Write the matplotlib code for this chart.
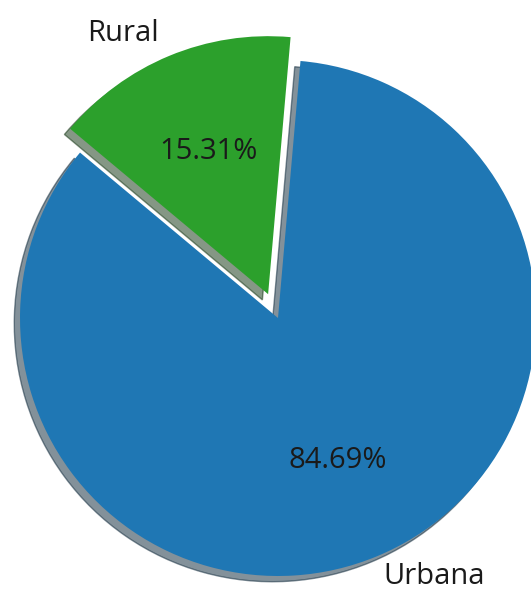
import matplotlib
matplotlib.use("Agg")
import matplotlib.pyplot as plt

labels = ["Urbana", "Rural"]
values = [84.69, 15.31]
colors = ["#1f77b4", "#2ca02c"]
explode = [0, 0.1]

plt.rcParams['font.family'] = ['Open Sans', 'DejaVu Sans']

R_PX = 258.0
CX, CY = 278, 318
fig = plt.figure(figsize=(5.31, 5.90), dpi=100)
ax = fig.add_axes([0, 0, 1, 1])
wedges, texts, autotexts = ax.pie(
    values, labels=labels, colors=colors, explode=explode,
    autopct='%1.2f%%', startangle=85, counterclock=False,
    shadow={'ox': -0.016, 'oy': -0.016},
    textprops={'fontsize': 21, 'color': '#1a1a1a'})
# small label nudges (in pixels converted to data units)
nudges = [(-3, 4), (0, -1)]
for t, (dx, dy) in zip(texts, nudges):
    x, y = t.get_position()
    t.set_position((x + dx / R_PX, y + dy / R_PX))
ax.set_aspect('auto')
ax.set_xlim(-CX / R_PX, (531 - CX) / R_PX)
ax.set_ylim(-(590 - CY) / R_PX, CY / R_PX)
ax.axis('off')
fig.savefig("out.png", dpi=100)
